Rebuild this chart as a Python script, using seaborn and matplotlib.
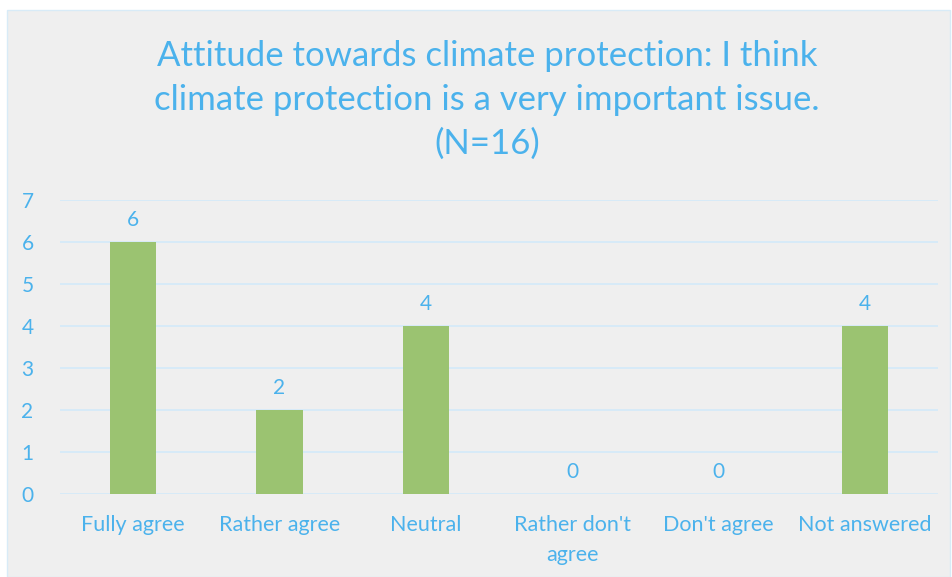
import matplotlib
matplotlib.use("Agg")
import matplotlib.pyplot as plt
import seaborn as sns
import pandas as pd
from matplotlib.patches import Rectangle

# 数据
categories = ["Fully agree", "Rather agree", "Neutral", "Rather don't\nagree", "Don't agree", "Not answered"]
counts = [6, 2, 4, 0, 0, 4]
title = "Attitude towards climate protection: I think\nclimate protection is a very important issue.\n(N=16)"

df = pd.DataFrame({"category": categories, "count": counts})

text_blue = "#4BB2EC"
bar_green = "#9BC371"
grid_blue = "#D3EAF9"
bg_grey = "#EFEFEF"

sns.set_style("white")
plt.rcParams['font.family'] = ['Lato', 'DejaVu Sans']

fig = plt.figure(figsize=(9.53, 5.77), dpi=100)
fig.patch.set_facecolor("white")
# 图表区背景
fig.patches.append(Rectangle((7 / 953, 0), 943 / 953, 567 / 577, transform=fig.transFigure,
                             facecolor=bg_grey, edgecolor="#D8EBF7", lw=1, zorder=-10))

ax = fig.add_axes([60 / 953, 1 - 494 / 577, 878 / 953, 294 / 577])
ax.patch.set_alpha(0)

sns.barplot(data=df, x="category", y="count", color=bar_green, width=0.315, ax=ax, zorder=3)
for p in ax.patches:
    p.set_facecolor(bar_green)
    p.set_edgecolor("none")

ax.bar_label(ax.containers[0], labels=[str(c) for c in counts], padding=9,
             color=text_blue, fontsize=15)

ax.set_ylim(0, 7)
ax.set_yticks(range(0, 8))
ax.set_xlim(-0.5, len(categories) - 0.5)
ax.grid(axis="y", color=grid_blue, lw=1.2, zorder=0)
ax.set_axisbelow(True)
for s in ax.spines.values():
    s.set_visible(False)
ax.set_xlabel("")
ax.set_ylabel("")
ax.tick_params(axis="y", length=0, pad=19, labelcolor=text_blue, labelsize=15)
ax.tick_params(axis="x", length=0, pad=15, labelcolor=text_blue, labelsize=15.5)
for lbl in ax.get_xticklabels():
    lbl.set_linespacing(1.65)

fig.text(487 / 953, 1 - 100 / 577, title, ha="center", va="center", color=text_blue,
         fontsize=25, linespacing=1.45)

plt.savefig("out.png", dpi=100)
